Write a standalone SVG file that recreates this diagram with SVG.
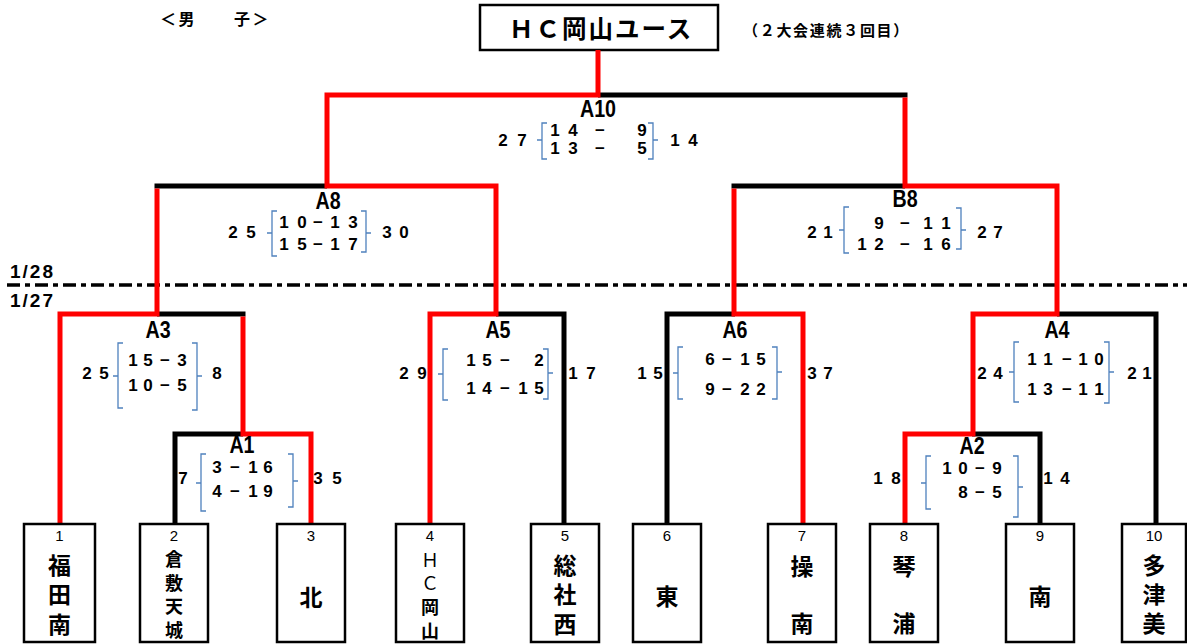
<svg xmlns="http://www.w3.org/2000/svg" width="1187" height="644" viewBox="0 0 1187 644">
<defs>
<style>
.bg{fill:#ffffff}
.red{fill:none;stroke:#ff0000;stroke-width:5;stroke-linejoin:miter}
.blk{fill:none;stroke:#000000;stroke-width:5;stroke-linejoin:miter}
.dash{fill:none;stroke:#000000;stroke-width:3.5;stroke-dasharray:13 5 5 5}
.brk{fill:none;stroke:#4f81bd;stroke-width:1.3}
.box{fill:#ffffff;stroke:#000000;stroke-width:2.5}
.jp{font-family:"Noto Sans CJK JP","Noto Sans CJK SC",sans-serif;font-weight:bold;fill:#000;dominant-baseline:central}
.lbl{font-family:"Liberation Sans Narrow","Liberation Sans",Arial,sans-serif;font-weight:bold;font-size:24px;fill:#000;text-anchor:middle;dominant-baseline:central}
.sc{font-family:"Liberation Sans Narrow","Liberation Sans",Arial,sans-serif;font-weight:bold;font-size:17px;fill:#000;text-anchor:middle;dominant-baseline:central}
.num{font-family:"Liberation Sans Narrow","Liberation Sans",Arial,sans-serif;font-size:15px;fill:#000;text-anchor:middle;dominant-baseline:central}
.team{font-family:"Noto Sans CJK JP","Noto Sans CJK SC",sans-serif;font-weight:bold;fill:#000;writing-mode:vertical-rl;text-anchor:start}
.date{font-family:"Liberation Sans Narrow","Liberation Sans",Arial,sans-serif;font-weight:bold;font-size:19px;letter-spacing:2px;fill:#000;dominant-baseline:central}
</style>
</defs>
<rect class="bg" x="0" y="0" width="1187" height="644"/>

<text id="gender" class="jp" x="160" y="18" font-size="16" letter-spacing="2.5">＜男　　子＞</text>

<g id="champion">
<rect x="480" y="5" width="238" height="45" fill="#fff" stroke="#000" stroke-width="2.5"/>
<text class="jp" x="509" y="27" font-size="24.5" letter-spacing="2">ＨＣ岡山ユース</text>
</g>
<text id="note" class="jp" x="743" y="29" font-size="15" letter-spacing="1.7">（２大会連続３回目）</text>

<g id="dateline">
<path class="dash" d="M7,285 H1187"/>
<text class="date" x="10" y="271">1/28</text>
<text class="date" x="10" y="300">1/27</text>
</g>

<g id="connectors">
<path class="blk" d="M598,95 H907.5"/>
<path class="blk" d="M154.5,186 H327"/>
<path class="blk" d="M731.5,186 H905"/>
<path class="blk" d="M157,314 H245.5"/>
<path class="blk" d="M243,434 H175 V524"/>
<path class="blk" d="M496,314 H564 V524"/>
<path class="blk" d="M735,314 H667 V524"/>
<path class="blk" d="M1057,314 H1156 V524"/>
<path class="blk" d="M972,434 H1040 V524"/>
<path class="red" d="M430,524 V314 H496 V186 H327 V95 H598 V50"/>
<path class="red" d="M60,524 V314 H157 V188.5"/>
<path class="red" d="M311,524 V434 H243 V316.5"/>
<path class="red" d="M803,524 V314 H734 V188.5"/>
<path class="red" d="M905,524 V434 H973 V314 H1057 V186 H905 V97.5"/>
</g>

<g id="m-A10">
<text class="lbl" transform="scale(0.82 1)" x="729.3" y="109">A10</text>
<text class="sc" x="503 522" y="140">27</text>
<path class="brk" d="M547,123 H542 V159 H547 M542,140 H537"/>
<text class="sc" x="555 573 600 642" y="130">14−9</text>
<text class="sc" x="555 573 600 642" y="148">13−5</text>
<path class="brk" d="M648,123 H653 V159 H648 M653,140 H658"/>
<text class="sc" x="675 693" y="140">14</text>
</g>

<g id="m-A8">
<text class="lbl" transform="scale(0.82 1)" x="400" y="201">A8</text>
<text class="sc" x="233 251" y="232">25</text>
<path class="brk" d="M277,211 H272 V256 H277 M272,233 H267"/>
<text class="sc" x="284 302 318 335 353" y="222">10−13</text>
<text class="sc" x="284 302 318 335 353" y="244">15−17</text>
<path class="brk" d="M361,211 H366 V252 H361 M366,233 H371"/>
<text class="sc" x="387 404" y="232">30</text>
</g>

<g id="m-B8">
<text class="lbl" transform="scale(0.82 1)" x="1103.7" y="199">B8</text>
<text class="sc" x="812 828" y="232">21</text>
<path class="brk" d="M849,207 H844 V253 H849 M844,230 H839"/>
<text class="sc" x="879 905 928 946" y="223">9−11</text>
<text class="sc" x="862 879 905 928 946" y="244">12−16</text>
<path class="brk" d="M956,208 H961 V249 H956 M961,230 H966"/>
<text class="sc" x="982 998" y="232">27</text>
</g>

<g id="m-A3">
<text class="lbl" transform="scale(0.82 1)" x="192.7" y="330">A3</text>
<text class="sc" x="87 104" y="373">25</text>
<path class="brk" d="M123,343 H118 V408 H123 M118,376 H113"/>
<text class="sc" x="133 148 165 182" y="360">15−3</text>
<text class="sc" x="133 148 165 182" y="385">10−5</text>
<path class="brk" d="M192,343 H197 V410 H192 M197,376 H202"/>
<text class="sc" x="217" y="373">8</text>
</g>

<g id="m-A1">
<text class="lbl" transform="scale(0.82 1)" x="295.1" y="445">A1</text>
<text class="sc" x="183" y="478">7</text>
<path class="brk" d="M206,454 H201 V511 H206 M201,483 H196"/>
<text class="sc" x="217 235 253 268" y="467">3−16</text>
<text class="sc" x="217 235 253 268" y="491">4−19</text>
<path class="brk" d="M288,454 H293 V507 H288 M293,481 H298"/>
<text class="sc" x="318 337" y="478">35</text>
</g>

<g id="m-A5">
<text class="lbl" transform="scale(0.82 1)" x="607.3" y="330">A5</text>
<text class="sc" x="404 422" y="373">29</text>
<path class="brk" d="M448,349 H443 V400 H448 M443,374 H438"/>
<text class="sc" x="471 487 505 539" y="360">15−2</text>
<text class="sc" x="471 487 505 523 539" y="388">14−15</text>
<path class="brk" d="M543,349 H548 V399 H543 M548,373 H553"/>
<text class="sc" x="573 591" y="373">17</text>
</g>

<g id="m-A6">
<text class="lbl" transform="scale(0.82 1)" x="896.3" y="330">A6</text>
<text class="sc" x="642 658" y="373">15</text>
<path class="brk" d="M683,347 H678 V399 H683 M678,373 H673"/>
<text class="sc" x="710 727 745 761" y="359">6−15</text>
<text class="sc" x="710 727 745 761" y="389">9−22</text>
<path class="brk" d="M772,347 H777 V399 H772 M777,372 H782"/>
<text class="sc" x="812 828" y="373">37</text>
</g>

<g id="m-A4">
<text class="lbl" transform="scale(0.82 1)" x="1289" y="330">A4</text>
<text class="sc" x="982 998" y="373">24</text>
<path class="brk" d="M1019,342 H1014 V402 H1019 M1014,372 H1009"/>
<text class="sc" x="1032 1048 1067 1083 1099" y="359">11−10</text>
<text class="sc" x="1032 1048 1067 1083 1099" y="389">13−11</text>
<path class="brk" d="M1104,342 H1109 V403 H1104 M1109,372 H1114"/>
<text class="sc" x="1132 1147" y="373">21</text>
</g>

<g id="m-A2">
<text class="lbl" transform="scale(0.82 1)" x="1185.4" y="446">A2</text>
<text class="sc" x="878 896" y="478">18</text>
<path class="brk" d="M931,456 H926 V509 H931 M926,483 H921"/>
<text class="sc" x="947 963 980 997" y="468">10−9</text>
<text class="sc" x="963 980 997" y="492">8−5</text>
<path class="brk" d="M1013,456 H1018 V517 H1013 M1018,487 H1023"/>
<text class="sc" x="1048 1065" y="478">14</text>
</g>

<g id="t1">
<rect class="box" x="24" y="524" width="71" height="118"/>
<text class="num" x="59.5" y="535">1</text>
<text class="team" font-size="23" letter-spacing="6.5" x="59.5" y="553.5">福田南</text>
</g>
<g id="t2">
<rect class="box" x="140" y="524" width="68" height="118"/>
<text class="num" x="174" y="535">2</text>
<text class="team" font-size="18" letter-spacing="5.7" x="174" y="550">倉敷天城</text>
</g>
<g id="t3">
<rect class="box" x="277" y="524" width="68" height="118"/>
<text class="num" x="311" y="535">3</text>
<text class="team" font-size="23" x="311" y="585.5">北</text>
</g>
<g id="t4">
<rect class="box" x="396" y="524" width="68" height="118"/>
<text class="num" x="430" y="535">4</text>
<text class="team" font-size="18" letter-spacing="5.7" x="430" y="551"><tspan font-weight="normal">ＨＣ</tspan>岡山</text>
</g>
<g id="t5">
<rect class="box" x="531" y="524" width="68" height="118"/>
<text class="num" x="565" y="535">5</text>
<text class="team" font-size="23" letter-spacing="6.5" x="565" y="553.5">総社西</text>
</g>
<g id="t6">
<rect class="box" x="633" y="524" width="68" height="118"/>
<text class="num" x="667" y="535">6</text>
<text class="team" font-size="23" x="667" y="584.5">東</text>
</g>
<g id="t7">
<rect class="box" x="768" y="524" width="68" height="118"/>
<text class="num" x="802" y="535">7</text>
<text class="team" font-size="23" letter-spacing="5.5" x="802" y="554.5">操　南</text>
</g>
<g id="t8">
<rect class="box" x="870" y="524" width="68" height="118"/>
<text class="num" x="904" y="535">8</text>
<text class="team" font-size="23" letter-spacing="5.5" x="904" y="554.5">琴　浦</text>
</g>
<g id="t9">
<rect class="box" x="1006" y="524" width="68" height="118"/>
<text class="num" x="1040" y="535">9</text>
<text class="team" font-size="23" x="1040" y="584.5">南</text>
</g>
<g id="t10">
<rect class="box" x="1122" y="524" width="64" height="118"/>
<text class="num" x="1154" y="535">10</text>
<text class="team" font-size="23" letter-spacing="6" x="1154" y="553.5">多津美</text>
</g>
</svg>
